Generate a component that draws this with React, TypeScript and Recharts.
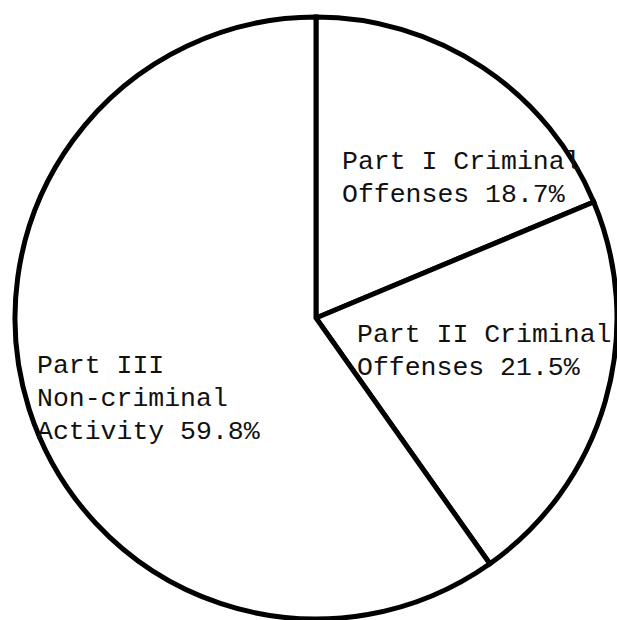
import { PieChart, Pie, Cell } from "recharts";

// slice names and shares, clockwise from 12 o'clock
const categories = ["Part I Criminal Offenses", "Part II Criminal Offenses", "Part III Non-criminal Activity"];
const shares = [18.7, 21.5, 59.8];
const labelLines = [
  ["Part I Criminal", "Offenses 18.7%"],
  ["Part II Criminal", "Offenses 21.5%"],
  ["Part III", "Non-criminal", "Activity 59.8%"],
];

// where each text block sits, relative to the pie centre
const labelOffsets = [
  { dx: 26, dy: -149 },
  { dx: 41, dy: 24 },
  { dx: -279, dy: 55 },
];

const data = categories.map((name, i) => ({ name, value: shares[i] }));

const renderLabel = (props: any) => {
  const { cx, cy, index } = props;
  const off = labelOffsets[index];
  return (
    <text
      key={index}
      x={cx + off.dx}
      y={cy + off.dy}
      fill="#111"
      fontFamily="'Liberation Mono', 'DejaVu Sans Mono', monospace"
      fontSize={26.5}
      textAnchor="start"
    >
      {labelLines[index].map((line, j) => (
        <tspan key={j} x={cx + off.dx} dy={j === 0 ? 0 : 33}>
          {line}
        </tspan>
      ))}
    </text>
  );
};

export default function App() {
  return (
    <div style={{ position: "absolute", left: 0, top: 0, background: "#fff" }}>
      <PieChart width={617} height={620} margin={{ top: 0, right: 0, bottom: 0, left: 0 }}>
        <Pie
          data={data}
          dataKey="value"
          nameKey="name"
          cx={316}
          cy={318}
          outerRadius={301}
          startAngle={90}
          endAngle={-270}
          stroke="#000"
          strokeWidth={5}
          label={renderLabel}
          labelLine={false}
          isAnimationActive={false}
        >
          {data.map((d) => (
            <Cell key={d.name} fill="#fff" stroke="#000" strokeWidth={5} />
          ))}
        </Pie>
      </PieChart>
    </div>
  );
}
